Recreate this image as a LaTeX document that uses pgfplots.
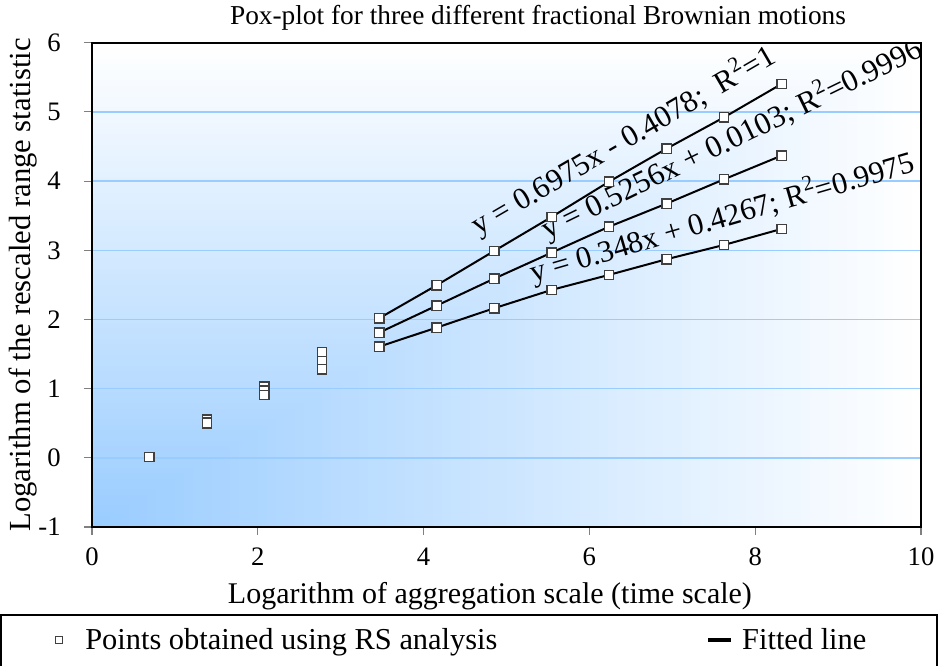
\documentclass[border=0pt]{standalone}
\usepackage{fontspec}
\setmainfont{Liberation Serif}
\usepackage{pgfplots}
\pgfplotsset{compat=1.18}
\usepackage{pgfplotstable}

\definecolor{skyfill}{RGB}{153,204,255}
\definecolor{gridblue}{RGB}{153,204,255}
\definecolor{markedge}{RGB}{64,64,64}

% log(R/S) against log(n) for three fBm paths
\pgfplotstableread{
x      s1     s2     s3
0.693  0.010  0.010  0.010
1.386  0.550  0.520  0.500
2.079  1.030  0.970  0.910
2.773  1.527  1.400  1.280
3.466  2.019  1.811  1.608
4.159  2.496  2.201  1.883
4.852  2.991  2.591  2.163
5.545  3.483  2.967  2.428
6.238  3.993  3.342  2.645
6.931  4.470  3.675  2.871
7.625  4.923  4.027  3.078
8.318  5.405  4.369  3.309
}\rsdata

\begin{document}
\begin{tikzpicture}
% corner gradient behind the plot area
\foreach \i in {90,89,...,1}{
  \pgfmathsetmacro\t{\i/90}
  \pgfmathsetmacro\p{100*(1-\t)}
  \fill[skyfill!\p!white] (0,0) rectangle ({\t*621.75pt},{\t*363.15pt});
}
\begin{axis}[
  scale only axis,
  width=621.75pt, height=363.15pt,
  xmin=0, xmax=10, ymin=-1, ymax=6,
  xtick={0,2,...,10}, ytick={-1,0,...,6},
  axis line style={black, line width=1.2pt},
  tick align=outside, xtick pos=bottom, ytick pos=left,
  major tick length=6pt,
  tick style={gray, line width=0.8pt},
  ymajorgrids, major grid style={gridblue, line width=1.1pt},
  /pgf/number format/assume math mode=true,
  ticklabel style={font=\fontsize{20}{24}\selectfont},
  xticklabel style={yshift=-6pt},
  yticklabel style={xshift=-14pt},
  title={Pox-plot for three different fractional Brownian motions},
  title style={font=\fontsize{20.5}{24}\selectfont, at={(axis description cs:0.538,1.051)}, anchor=center, yshift=-6pt},
  xlabel={Logarithm of aggregation scale (time scale)},
  xlabel style={font=\fontsize{22.5}{27}\selectfont, at={(axis description cs:0.480,-0.143)}, anchor=center},
  ylabel={Logarithm of the rescaled range statistic},
  ylabel style={font=\fontsize{23}{27}\selectfont, at={(axis description cs:-0.0832,0.5)}, anchor=center},
  legend columns=2,
  legend style={draw=none, fill=none, at={(axis description cs:-0.0447,-0.2334)}, anchor=west,
    font=\fontsize{22.8}{27}\selectfont, inner xsep=0pt,
    /tikz/column 1/.style={column sep=15pt},
    /tikz/column 2/.style={column sep=155pt},
    /tikz/column 3/.style={column sep=5pt}},
]
% fitted lines over the upper range of scales
\foreach \s in {s1,s2,s3}{
  \addplot[black, line width=1.5pt, forget plot, restrict x to domain=3.4:9] table[x=x, y=\s] {\rsdata};
}
% R/S points
\foreach \s in {s1,s2,s3}{
  \addplot[only marks, mark=square*, mark size=3.5pt, mark options={fill=white, draw=markedge, line width=1pt}, forget plot] table[x=x, y=\s] {\rsdata};
}
\addlegendimage{only marks, mark=square*, mark size=2.8pt, mark options={fill=white, draw=markedge, line width=1pt}}
\addlegendentry{Points obtained using RS analysis}
\addlegendimage{legend image code/.code={\draw[black, line width=2.5pt] (0cm,0cm) -- (0.6cm,0cm);}}
\addlegendentry{Fitted line}

% regression equations along each line
\node[rotate=30.2, anchor=base west, font=\fontsize{23}{27}\selectfont, inner sep=0pt] at (axis cs:4.66,3.207) {y = 0.6975x - 0.4078;\ \ R\textsuperscript{2}=1};
\node[rotate=26, anchor=base west, font=\fontsize{23.3}{27}\selectfont, inner sep=0pt] at (axis cs:5.49,3.149) {y = 0.5256x + 0.0103; R\textsuperscript{2}=0.9996};
\node[rotate=16.2, anchor=base west, font=\fontsize{23}{27}\selectfont, inner sep=0pt] at (axis cs:5.32,2.527) {y = 0.348x + 0.4267; R\textsuperscript{2}=0.9975};
\end{axis}
% legend frame
\draw[black, line width=1.2pt] (-68.25pt,-66pt) rectangle (633.75pt,-130pt);
\pgfresetboundingbox
\useasboundingbox (-69pt,-104.25pt) rectangle (636.75pt,395.25pt);
\end{tikzpicture}
\end{document}
